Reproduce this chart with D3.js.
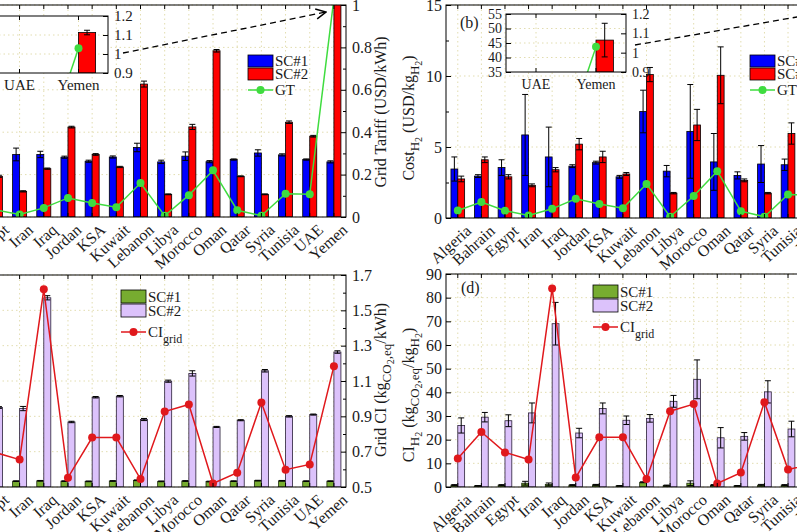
<!DOCTYPE html>
<html>
<head>
<meta charset="utf-8">
<script src="https://cdnjs.cloudflare.com/ajax/libs/d3/7.8.5/d3.min.js"></script>
<style>
  body { margin: 0; background: #fff; }
  svg text { font-family: "Liberation Serif", "DejaVu Serif", serif; fill: #1a1a1a; }
</style>
</head>
<body>
<svg id="chart" width="797" height="532"></svg>
<script>
// ----- DATA -----

var countries = ["Algeria", "Bahrain", "Egypt", "Iran", "Iraq", "Jordan", "KSA", "Kuwait", "Lebanon",
                 "Libya", "Morocco", "Oman", "Qatar", "Syria", "Tunisia", "UAE", "Yemen"];

// (a) electricity cost, USD/kWh
var tariffSC1 = [0.28, 0.27, 0.28, 0.295, 0.295, 0.282, 0.263, 0.283, 0.328, 0.26, 0.287, 0.261, 0.271, 0.302, 0.293, 0.271, 0.26];
var tariffSC1Err = [0.01, 0.005, 0.01, 0.03, 0.015, 0.005, 0.005, 0.005, 0.02, 0.008, 0.02, 0.005, 0.003, 0.015, 0.005, 0.003, 0.005];
var tariffSC2 = [0.19, 0.28, 0.192, 0.121, 0.228, 0.424, 0.295, 0.236, 0.627, 0.107, 0.425, 0.784, 0.192, 0.107, 0.447, 0.381, 1.113];
var tariffSC2Err = [0.005, 0.005, 0.005, 0.003, 0.003, 0.004, 0.004, 0.003, 0.014, 0.002, 0.012, 0.006, 0.002, 0.002, 0.006, 0.004, 0.012];
var gridTariff = [0.035, 0.075, 0.034, 0.012, 0.043, 0.09, 0.066, 0.046, 0.16, 0.006, 0.103, 0.22, 0.032, 0.006, 0.11, 0.107, 1.03];

// (b) hydrogen cost, USD/kg
var costSC1 = [3.45, 2.95, 3.55, 5.85, 4.3, 3.65, 3.9, 2.9, 7.5, 3.3, 6.1, 3.95, 3.0, 3.8, 3.75, 3.6, 4.0];
var costSC1Err = [0.85, 0.1, 0.55, 2.85, 2.1, 0.1, 0.1, 0.1, 1.5, 0.4, 3.3, 2.0, 0.25, 1.3, 0.4, 0.2, 0.3];
var costSC2 = [2.75, 4.1, 2.9, 2.3, 3.4, 5.2, 4.3, 3.1, 10.1, 1.75, 6.55, 10.05, 2.65, 1.75, 5.95, 5.5, 46];
var costSC2Err = [0.2, 0.2, 0.15, 0.1, 0.15, 0.4, 0.4, 0.1, 0.5, 0.05, 1.1, 2.0, 0.1, 0.05, 0.75, 0.5, 5.8];

// (c) grid carbon intensity
var ciSC1 = [0.533, 0.532, 0.533, 0.533, 0.535, 0.533, 0.532, 0.534, 0.538, 0.532, 0.534, 0.531, 0.533, 0.536, 0.535, 0.533, 0.533];
var ciSC1Err = [0.002, 0.002, 0.002, 0.002, 0.002, 0.002, 0.002, 0.002, 0.002, 0.002, 0.002, 0.002, 0.002, 0.002, 0.002, 0.002, 0.002];
var ciSC2 = [0.95, 0.98, 0.95, 0.944, 1.571, 0.868, 1.008, 1.014, 0.882, 1.099, 1.143, 0.84, 0.878, 1.158, 0.9, 0.91, 1.264];
var ciSC2Err = [0.005, 0.005, 0.005, 0.012, 0.012, 0.004, 0.004, 0.004, 0.006, 0.006, 0.015, 0.003, 0.003, 0.007, 0.004, 0.003, 0.007];
var ciGrid = [0.66, 0.81, 0.695, 0.655, 1.619, 0.553, 0.78, 0.78, 0.545, 0.927, 0.967, 0.52, 0.581, 0.978, 0.598, 0.628, 1.184];

// (d) hydrogen carbon intensity
var ciH2SC1 = [0.8, 0.5, 0.8, 1.6, 1.1, 0.8, 0.9, 0.5, 2.0, 0.6, 1.6, 0.8, 0.5, 0.8, 0.8, 0.7, 0.8];
var ciH2SC1Err = [0.2, 0.1, 0.2, 0.8, 0.6, 0.2, 0.2, 0.1, 0.2, 0.2, 1.0, 0.2, 0.1, 0.3, 0.2, 0.2, 0.2];
var ciH2SC2 = [26, 29.5, 28, 31.3, 69, 22.8, 33.2, 28.2, 29, 36.2, 45.5, 20.8, 21.4, 40.2, 24.5, 26, 50];
var ciH2SC2Err = [3.2, 2, 2.5, 4.2, 9, 2, 2.3, 1.8, 1.6, 2.5, 8.2, 4.3, 1.6, 4.7, 3.3, 2, 5];

var tickA = [0, 0.2, 0.4, 0.6, 0.8, 1];
var tickB = [0, 5, 10, 15];
var tickC = [0.5, 0.7, 0.9, 1.1, 1.3, 1.5, 1.7];
var tickD = [0, 10, 20, 30, 40, 50, 60, 70, 80, 90];
var tickInsetL = [35, 40, 45, 50, 55];
var tickInsetR = [0.9, 1, 1.1, 1.2];

// ----- SETUP -----

var FONT = '"Liberation Serif", "DejaVu Serif", serif';
var FS = 16;
var BLUE = "#0000ff", RED = "#ff0000", GREEN_BAR = "#77ac30", PURPLE = "#dcc2fb";
var GT_GREEN = "#3fdc3f", CI_RED = "#e0181c", GRID = "#e2ddb0";

var svg = d3.select("#chart");
var defs = svg.append("defs");
defs.append("marker")
    .attr("id", "arrow")
    .attr("viewBox", "0 0 12 12")
    .attr("refX", 11).attr("refY", 6)
    .attr("markerWidth", 12).attr("markerHeight", 12)
    .attr("markerUnits", "userSpaceOnUse")
    .attr("orient", "auto")
  .append("path")
    .attr("d", "M1,1 L11,6 L1,11")
    .attr("fill", "none")
    .attr("stroke", "#000")
    .attr("stroke-width", 1.5);

var clipCount = 0;
var fmt = function(d) { return String(+d.toFixed(2)); };

function styleAxis(sel, size) {
    sel.attr("font-family", FONT).attr("font-size", size || FS);
    sel.select(".domain").remove();
    sel.selectAll("line").attr("stroke", "#000");
    sel.selectAll("text").attr("fill", "#1a1a1a");
}

function drawPanel(p) {
    var g = svg.append("g");
    var fs = p.fontSize || FS;
    var x = d3.scaleBand().domain(p.cats).range([p.left, p.right]);
    var step = x.step();
    var bw = step * 0.29;
    var id = "clip" + (clipCount++);
    defs.append("clipPath").attr("id", id).append("rect")
        .attr("x", p.left).attr("y", p.top)
        .attr("width", p.right - p.left).attr("height", p.bottom - p.top);

    g.append("rect")
        .attr("x", p.left).attr("y", p.top)
        .attr("width", p.right - p.left).attr("height", p.bottom - p.top)
        .attr("fill", "#fff");

    // grid
    var grid = g.append("g")
        .attr("stroke", GRID)
        .attr("stroke-dasharray", "1.5,3");
    grid.selectAll(null).data(p.gridTicks).join("line")
        .attr("x1", p.left).attr("x2", p.right)
        .attr("y1", function(d) { return p.gridScale(d); })
        .attr("y2", function(d) { return p.gridScale(d); });
    grid.selectAll(null).data(p.cats).join("line")
        .attr("x1", function(d) { return x(d) + step / 2; })
        .attr("x2", function(d) { return x(d) + step / 2; })
        .attr("y1", p.top).attr("y2", p.bottom);

    var plot = g.append("g").attr("clip-path", "url(#" + id + ")");
    var base = p.barScale.range()[0];

    // bars
    p.bars.forEach(function(s, i) {
        var off = (i - p.bars.length / 2) * bw;
        var rows = p.cats.map(function(c, j) { return { c: c, v: s.values[j], e: s.errors[j] }; });
        plot.selectAll(null).data(rows).join("rect")
            .attr("x", function(d) { return x(d.c) + step / 2 + off; })
            .attr("y", function(d) { return Math.min(p.barScale(d.v), base); })
            .attr("width", bw)
            .attr("height", function(d) { return Math.max(0, base - p.barScale(d.v)); })
            .attr("fill", s.fill)
            .attr("stroke", s.edge || "#000")
            .attr("stroke-width", 0.8);
        // error bars
        var eb = plot.append("g").attr("stroke", "#000").attr("stroke-width", 1);
        rows.forEach(function(d) {
            var cx = x(d.c) + step / 2 + off + bw / 2;
            var y1 = p.barScale(d.v + d.e), y2 = p.barScale(d.v - d.e);
            eb.append("line").attr("x1", cx).attr("x2", cx).attr("y1", y1).attr("y2", y2);
            eb.append("line").attr("x1", cx - 3).attr("x2", cx + 3).attr("y1", y1).attr("y2", y1);
            eb.append("line").attr("x1", cx - 3).attr("x2", cx + 3).attr("y1", y2).attr("y2", y2);
        });
    });

    // line with markers
    if (p.line) {
        var pts = p.cats.map(function(c, j) { return { c: c, v: p.line.values[j] }; });
        var line = d3.line()
            .x(function(d) { return x(d.c) + step / 2; })
            .y(function(d) { return p.line.scale(d.v); });
        plot.append("path")
            .datum(pts)
            .attr("d", line)
            .attr("fill", "none")
            .attr("stroke", p.line.color)
            .attr("stroke-width", 1.5);
        plot.selectAll(null).data(pts).join("circle")
            .attr("cx", function(d) { return x(d.c) + step / 2; })
            .attr("cy", function(d) { return p.line.scale(d.v); })
            .attr("r", 4)
            .attr("fill", p.line.color);
    }

    // frame and category ticks
    g.append("rect")
        .attr("x", p.left).attr("y", p.top)
        .attr("width", p.right - p.left).attr("height", p.bottom - p.top)
        .attr("fill", "none").attr("stroke", "#000").attr("stroke-width", 1);
    g.append("g")
        .attr("transform", "translate(0," + p.top + ")")
        .call(d3.axisTop(x).tickSizeInner(-4).tickSizeOuter(0).tickFormat(""))
        .call(styleAxis, fs);
    g.append("g")
        .attr("transform", "translate(0," + p.bottom + ")")
        .call(d3.axisBottom(x).tickSizeInner(-4).tickSizeOuter(0).tickFormat(""))
        .call(styleAxis, fs);

    if (p.rotLabels) {
        g.selectAll(null).data(p.cats).join("text")
            .attr("transform", function(d) {
                return "translate(" + (x(d) + step / 2 + 7) + "," + (p.bottom + 6) + ") rotate(-42)";
            })
            .attr("text-anchor", "end")
            .attr("dy", "0.7em")
            .attr("font-size", fs)
            .text(function(d) { return d; });
    } else {
        g.selectAll(null).data(p.cats).join("text")
            .attr("x", function(d) { return x(d) + step / 2; })
            .attr("y", p.bottom + 17)
            .attr("text-anchor", "middle")
            .attr("font-size", fs)
            .text(function(d) { return d; });
    }

    if (p.yL) {
        g.append("g")
            .attr("transform", "translate(" + p.left + ",0)")
            .call(d3.axisLeft(p.yL).tickValues(p.ticksL).tickSizeInner(-5).tickSizeOuter(0).tickPadding(4).tickFormat(fmt))
            .call(styleAxis, fs);
        if (p.minorL) {
            g.append("g")
                .attr("transform", "translate(" + p.left + ",0)")
                .call(d3.axisLeft(p.yL).tickValues(p.minorL).tickSizeInner(-3).tickSizeOuter(0).tickFormat(""))
                .call(styleAxis, fs);
        }
    }
    if (p.yR) {
        g.append("g")
            .attr("transform", "translate(" + p.right + ",0)")
            .call(d3.axisRight(p.yR).tickValues(p.ticksR).tickSizeInner(-5).tickSizeOuter(0).tickPadding(6).tickFormat(fmt))
            .call(styleAxis, fs);
        if (p.minorR) {
            g.append("g")
                .attr("transform", "translate(" + p.right + ",0)")
                .call(d3.axisRight(p.yR).tickValues(p.minorR).tickSizeInner(-3).tickSizeOuter(0).tickFormat(""))
                .call(styleAxis, fs);
        }
    }
    return x;
}

// legend: two bar swatches then one line entry
function legend(x0, y0, rowH, lineY, items) {
    var g = svg.append("g");
    items.forEach(function(it, i) {
        if (it.type === "bar") {
            g.append("rect")
                .attr("x", x0).attr("y", y0 + i * rowH)
                .attr("width", 25).attr("height", rowH - 1)
                .attr("fill", it.fill).attr("stroke", "#000").attr("stroke-width", 0.8);
            g.append("text")
                .attr("x", x0 + 27).attr("y", y0 + i * rowH + rowH - 2)
                .attr("font-size", 15).text(it.label);
        } else {
            var yy = y0 + lineY;
            g.append("line")
                .attr("x1", x0).attr("x2", x0 + 25).attr("y1", yy).attr("y2", yy)
                .attr("stroke", it.color).attr("stroke-width", 1.5);
            g.append("circle").attr("cx", x0 + 12.5).attr("cy", yy).attr("r", 4).attr("fill", it.color);
            var t = g.append("text").attr("x", x0 + 27).attr("y", yy + 5).attr("font-size", 15);
            t.append("tspan").text(it.label);
            if (it.sub) t.append("tspan").attr("dy", 6).attr("font-size", 12).text(it.sub);
        }
    });
}

// rotated axis title with subscripts: parts = [[text, level], ...]
function axisTitle(tx, ty, parts) {
    var t = svg.append("text")
        .attr("transform", "translate(" + tx + "," + ty + ") rotate(-90)")
        .attr("text-anchor", "middle")
        .attr("font-size", FS);
    var shift = [0, 5, 8];
    var sizes = [16, 13, 10];
    var cur = 0;
    parts.forEach(function(pt) {
        var lvl = pt[1];
        t.append("tspan")
            .attr("dy", shift[lvl] - shift[cur])
            .attr("font-size", sizes[lvl])
            .text(pt[0]);
        cur = lvl;
    });
}

// ----- PANEL (a) -----
var yA = d3.scaleLinear().domain([0, 1]).range([217, 5]);
drawPanel({
    cats: countries, left: -65, right: 346, top: 5, bottom: 217,
    barScale: yA, gridScale: yA, gridTicks: tickA,
    bars: [
        { values: tariffSC1, errors: tariffSC1Err, fill: BLUE },
        { values: tariffSC2, errors: tariffSC2Err, fill: RED }
    ],
    line: { values: gridTariff, scale: yA, color: GT_GREEN },
    yR: yA, ticksR: tickA, minorR: [0.1, 0.3, 0.5, 0.7, 0.9],
    rotLabels: true
});
axisTitle(386, 112, [["Grid Tariff (USD/kWh)", 0]]);
legend(248, 55, 13, 35, [
    { type: "bar", fill: BLUE, label: "SC#1" },
    { type: "bar", fill: RED, label: "SC#2" },
    { type: "line", color: GT_GREEN, label: "GT" }
]);

// inset (a)
var yAi = d3.scaleLinear().domain([0.9, 1.2]).range([73, 16]);
drawPanel({
    cats: countries.slice(15), left: -10, right: 108, top: 16, bottom: 73,
    barScale: yAi, gridScale: yAi, gridTicks: [1, 1.1],
    bars: [
        { values: tariffSC1.slice(15), errors: tariffSC1Err.slice(15), fill: BLUE },
        { values: tariffSC2.slice(15), errors: tariffSC2Err.slice(15), fill: RED }
    ],
    line: { values: gridTariff.slice(15), scale: yAi, color: GT_GREEN },
    yR: yAi, ticksR: tickInsetR,
    rotLabels: false, fontSize: 15
});
svg.append("line")
    .attr("x1", 123).attr("y1", 53).attr("x2", 326).attr("y2", 12)
    .attr("stroke", "#000").attr("stroke-width", 1.3)
    .attr("stroke-dasharray", "6,4")
    .attr("marker-end", "url(#arrow)");

// ----- PANEL (b) -----
var yB = d3.scaleLinear().domain([0, 15]).range([218, 5]);
var yBR = d3.scaleLinear().domain([0, 1]).range([218, 5]);
drawPanel({
    cats: countries, left: 446, right: 847, top: 5, bottom: 218,
    barScale: yB, gridScale: yB, gridTicks: tickB,
    bars: [
        { values: costSC1, errors: costSC1Err, fill: BLUE },
        { values: costSC2, errors: costSC2Err, fill: RED }
    ],
    line: { values: gridTariff, scale: yBR, color: GT_GREEN },
    yL: yB, ticksL: tickB, minorL: [2.5, 7.5, 12.5],
    yR: yBR, ticksR: tickA,
    rotLabels: true
});
axisTitle(414, 118, [["Cost", 0], ["H", 1], ["2", 2], [" (USD/kg", 0], ["H", 1], ["2", 2], [")", 0]]);
legend(750, 55, 13, 35, [
    { type: "bar", fill: BLUE, label: "SC#1" },
    { type: "bar", fill: RED, label: "SC#2" },
    { type: "line", color: GT_GREEN, label: "GT" }
]);
svg.append("text").attr("x", 460).attr("y", 28).attr("font-size", FS).text("(b)");

// inset (b)
var yBi = d3.scaleLinear().domain([35, 55]).range([72, 14]);
var yBiR = d3.scaleLinear().domain([0.9, 1.2]).range([72, 14]);
drawPanel({
    cats: countries.slice(15), left: 506, right: 626, top: 14, bottom: 72,
    barScale: yBi, gridScale: yBi, gridTicks: [40, 45, 50],
    bars: [
        { values: costSC1.slice(15), errors: costSC1Err.slice(15), fill: BLUE },
        { values: costSC2.slice(15), errors: costSC2Err.slice(15), fill: RED }
    ],
    line: { values: gridTariff.slice(15), scale: yBiR, color: GT_GREEN },
    yL: yBi, ticksL: tickInsetL,
    yR: yBiR, ticksR: tickInsetR,
    rotLabels: false, fontSize: 14
});
svg.append("line")
    .attr("x1", 635).attr("y1", 45).attr("x2", 826).attr("y2", 12)
    .attr("stroke", "#000").attr("stroke-width", 1.3)
    .attr("stroke-dasharray", "6,4")
    .attr("marker-end", "url(#arrow)");

// ----- PANEL (c) -----
var yC = d3.scaleLinear().domain([0.5, 1.7]).range([487, 275]);
drawPanel({
    cats: countries, left: -65, right: 346, top: 275, bottom: 487,
    barScale: yC, gridScale: yC, gridTicks: tickC,
    bars: [
        { values: ciSC1, errors: ciSC1Err, fill: GREEN_BAR, edge: "#1e2a10" },
        { values: ciSC2, errors: ciSC2Err, fill: PURPLE, edge: "#2a2038" }
    ],
    line: { values: ciGrid, scale: yC, color: CI_RED },
    yR: yC, ticksR: tickC, minorR: [0.6, 0.8, 1.0, 1.2, 1.4, 1.6],
    rotLabels: true
});
axisTitle(386, 380, [["Grid CI (kg", 0], ["CO", 1], ["2", 2], [",eq", 1], ["/kWh)", 0]]);
legend(121, 290, 14, 42, [
    { type: "bar", fill: GREEN_BAR, label: "SC#1" },
    { type: "bar", fill: PURPLE, label: "SC#2" },
    { type: "line", color: CI_RED, label: "CI", sub: "grid" }
]);

// ----- PANEL (d) -----
var yD = d3.scaleLinear().domain([0, 90]).range([487, 274]);
drawPanel({
    cats: countries, left: 446, right: 847, top: 274, bottom: 487,
    barScale: yD, gridScale: yD, gridTicks: tickD,
    bars: [
        { values: ciH2SC1, errors: ciH2SC1Err, fill: GREEN_BAR, edge: "#1e2a10" },
        { values: ciH2SC2, errors: ciH2SC2Err, fill: PURPLE, edge: "#2a2038" }
    ],
    line: { values: ciGrid, scale: yC.copy().range([487, 274]), color: CI_RED },
    yL: yD, ticksL: tickD,
    rotLabels: true
});
axisTitle(414, 395, [["CI", 0], ["H", 1], ["2", 2], [" (kg", 0], ["CO", 1], ["2", 2], [",eq", 1], ["/kg", 0], ["H", 1], ["2", 2], [")", 0]]);
legend(593, 285, 14, 42, [
    { type: "bar", fill: GREEN_BAR, label: "SC#1" },
    { type: "bar", fill: PURPLE, label: "SC#2" },
    { type: "line", color: CI_RED, label: "CI", sub: "grid" }
]);
svg.append("text").attr("x", 461).attr("y", 293).attr("font-size", FS).text("(d)");
</script>
</body>
</html>
